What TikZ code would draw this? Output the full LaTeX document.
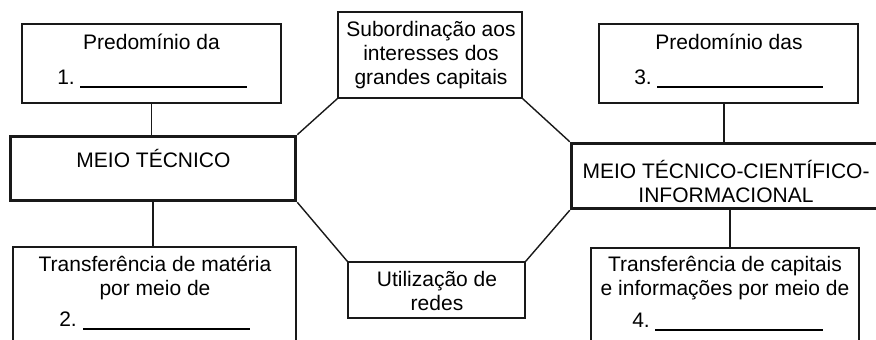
\documentclass[tikz,border=0pt]{standalone}
\usepackage{fontspec}
\setmainfont{Liberation Sans}
\begin{document}
\begin{tikzpicture}[x=1pt,y=-1pt,
  box/.style={draw=black!90,line width=1.4pt,rectangle,inner sep=0pt},
  thickbox/.style={draw=black!90,line width=3.5pt,rectangle,inner sep=0pt},
  txt/.style={inner sep=0pt,align=center,text=black,font=\fontsize{21}{24}\selectfont},
  link/.style={draw=black!90,line width=1.4pt},
  blank/.style={draw=black,line width=1.6pt}]
\useasboundingbox (0,0) rectangle (876,340);
\clip (0,0) rectangle (876,340);
% boxes
\node[box,minimum width=259pt,minimum height=79pt] (tl) at (151.5,63.5) {};
\node[thickbox,minimum width=285pt,minimum height=64pt] (mt) at (153,168.5) {};
\node[box,minimum width=283pt,minimum height=113pt] (bl) at (154.5,303.5) {};
\node[box,minimum width=184pt,minimum height=86pt] (tc) at (430,55) {};
\node[box,minimum width=177pt,minimum height=56pt] (bc) at (436.5,290) {};
\node[thickbox,minimum width=330pt,minimum height=65pt] (mr) at (736.5,176) {};
\node[box,minimum width=259pt,minimum height=79pt] (tr) at (728.5,63.5) {};
\node[box,minimum width=268pt,minimum height=112pt] (br) at (725,304) {};
% texts
\node[txt] (t1) at (151.5,42) {Predomínio da};
\node[txt,anchor=base east] (n1) at (75,84) {1.};
\coordinate (u1a) at (80,87); \coordinate (u1b) at (247,87);
\node[txt] (t2) at (153.5,158) {MEIO TÉCNICO};
\node[txt] (t3) at (155,278) {Transferência de matéria\\por meio de};
\node[txt,anchor=base east] (n2) at (77,326) {2.};
\coordinate (u2a) at (83,329); \coordinate (u2b) at (250,329);
\node[txt] (t4) at (431,55) {Subordinação aos\\interesses dos\\grandes capitais};
\node[txt] (t5) at (437,290.5) {Utilização de\\redes};
\node[txt] (t6) at (726,181) {MEIO TÉCNICO-CIENTÍFICO-\\INFORMACIONAL};
\node[txt] (t7) at (729,42) {Predomínio das};
\node[txt,anchor=base east] (n3) at (652,84) {3.};
\coordinate (u3a) at (657,87); \coordinate (u3b) at (823,87);
\node[txt] (t8) at (725,278.5) {Transferência de capitais\\e informações por meio de};
\node[txt,anchor=base east] (n4) at (650,327) {4.};
\coordinate (u4a) at (655,330); \coordinate (u4b) at (823,330);
% blanks
\draw[blank] (u1a) -- (u1b);
\draw[blank] (u2a) -- (u2b);
\draw[blank] (u3a) -- (u3b);
\draw[blank] (u4a) -- (u4b);
% connectors
\draw[link] (tl.south) -- (tl.south |- mt.north);
\draw[link] (mt.south) -- (mt.south |- bl.north);
\draw[link] ([xshift=-4.5pt]tr.south) -- ([xshift=-4.5pt]tr.south |- mr.north);
\draw[link] ([xshift=5pt]br.north |- mr.south) -- ([xshift=5pt]br.north);
\draw[link] (mt.north east) -- (tc.south west);
\draw[link] (tc.south east) -- (mr.north west);
\draw[link] (mt.south east) -- (bc.north west);
\draw[link] (bc.north east) -- (mr.south west);
\end{tikzpicture}
\end{document}
